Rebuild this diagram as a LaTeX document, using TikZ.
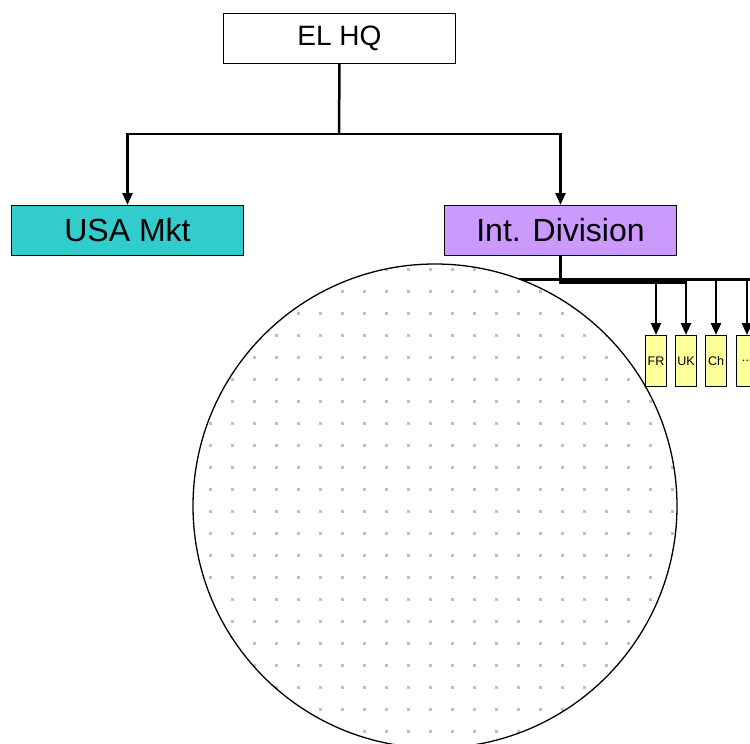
\documentclass[tikz,border=0pt]{standalone}
\usepackage{fontspec}
\setmainfont{Liberation Sans}
\usetikzlibrary{arrows.meta}
\definecolor{usafill}{HTML}{33CCCC}
\definecolor{intfill}{HTML}{CC99FF}
\definecolor{yelfill}{HTML}{FFFF99}
\definecolor{dotgray}{HTML}{C0C0C0}
\begin{document}
\begin{tikzpicture}[x=1pt,y=-1pt,
  box/.style={draw=black, line width=1pt, minimum width=232pt, minimum height=50pt, inner sep=0pt, anchor=north west, font=\fontsize{32}{38}\selectfont},
  smallbox/.style={draw=black, line width=1pt, fill=yelfill, minimum width=21pt, minimum height=51pt, inner sep=0pt, anchor=north west, font=\fontsize{12.5}{14}\selectfont},
  conn/.style={line width=2.5pt},
  arr/.style={conn, -{Triangle[length=12pt,width=10pt]}}]
\useasboundingbox (0,0) rectangle (750,744);
\clip (0,0) rectangle (750,744);

% boxes
\node[box, font=\fontsize{28}{34}\selectfont] (hq) at (223,13) {EL HQ};
\node[box, fill=usafill] (usa) at (11,205) {USA Mkt};
\node[box, fill=intfill] (int) at (444,205) {Int. Division};

% top connectors
\coordinate (hqj) at (339,134);
\draw[conn] (hq.south) -- (hqj);
\draw[arr] (hqj) -| (usa.north);
\draw[arr] (hqj) -| (int.north);

% bus line behind circle
\coordinate (busL) at (450,279.5);
\coordinate (busR) at (752,279.5);
\draw[conn] (busL) -- (busR);

% circle with dot pattern
\begin{scope}
  \clip (435,506) circle (242);
  \fill[white] (435,506) circle (242);
  \foreach \i in {0,...,22}
    \foreach \j in {0,...,23}
      \fill[dotgray] ({186.5+22*\i},{245.5+22*\j}) rectangle ++(3,3);
\end{scope}
\node[circle, draw=black, line width=1.3pt, minimum size=484pt, inner sep=0pt] (ring) at (435,506) {};

% small boxes
\node[smallbox] (fr) at (645,335) {FR};
\node[smallbox] (uk) at (675,335) {UK};
\node[smallbox] (ch) at (705,335) {Ch};
\node[smallbox] (more) at (736,335) {...};

% Int. Division connectors
\coordinate (j2) at (686,282);
\draw[line width=3.5pt] (int.south) |- (j2);
\draw[arr] (fr.north |- busL) -- (fr.north);
\draw[arr] (uk.north |- busL) -- (uk.north);
\draw[arr] (ch.north |- busL) -- (ch.north);
\draw[arr] (more.north |- busL) -- (more.north);
\end{tikzpicture}
\end{document}
